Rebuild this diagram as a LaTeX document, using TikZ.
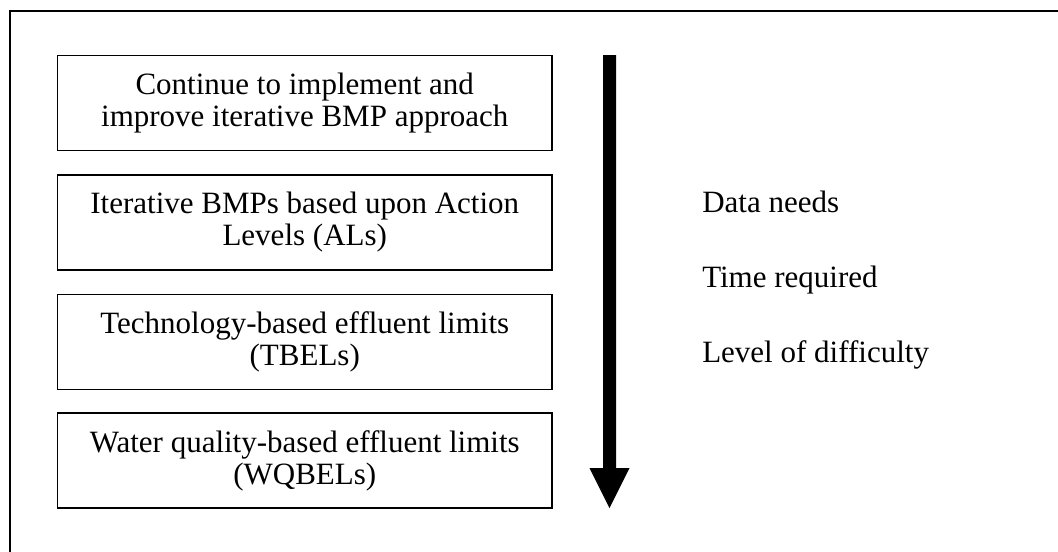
\documentclass[tikz,border=0pt]{standalone}
\usepackage{fontspec}
\setmainfont{Liberation Serif}
\begin{document}
\begin{tikzpicture}[x=0.75pt,y=-0.75pt,
  every node/.style={font=\fontsize{23.25pt}{24pt}\selectfont},
  stagebox/.style={draw,line width=1.3pt,minimum width=370.9pt,minimum height=71.25pt,
    inner sep=0pt,align=center},
  sidelabel/.style={anchor=base west,inner sep=0pt},
  frameline/.style={line width=1.3pt}]
\useasboundingbox (0,0) rectangle (1058,551);
\draw[frameline] (10,560) -- (10,11) -- (1070,11);
\node[stagebox] (s1) at (304.75,103) {Continue to implement and\\improve iterative BMP approach};
\node[stagebox] (s2) at (304.75,222.5) {Iterative BMPs based upon Action\\Levels (ALs)};
\node[stagebox] (s3) at (304.75,342) {Technology-based effluent limits\\(TBELs)};
\node[stagebox] (s4) at (304.75,460.5) {Water quality-based effluent limits\\(WQBELs)};
\coordinate (aTop) at (609.5,55);
\coordinate (aTip) at (609.5,508);
\fill ([xshift=-4.875pt]aTop) -- ([xshift=4.875pt]aTop) -- ([xshift=4.875pt,yshift=30pt]aTip)
  -- ([xshift=15pt,yshift=30pt]aTip) -- (aTip) -- ([xshift=-15pt,yshift=30pt]aTip)
  -- ([xshift=-4.875pt,yshift=30pt]aTip) -- cycle;
\node[sidelabel] (d1) at (702,212) {Data needs};
\node[sidelabel] (d2) at (702,287) {Time required};
\node[sidelabel] (d3) at (702,362) {Level of difficulty};
\end{tikzpicture}
\end{document}
